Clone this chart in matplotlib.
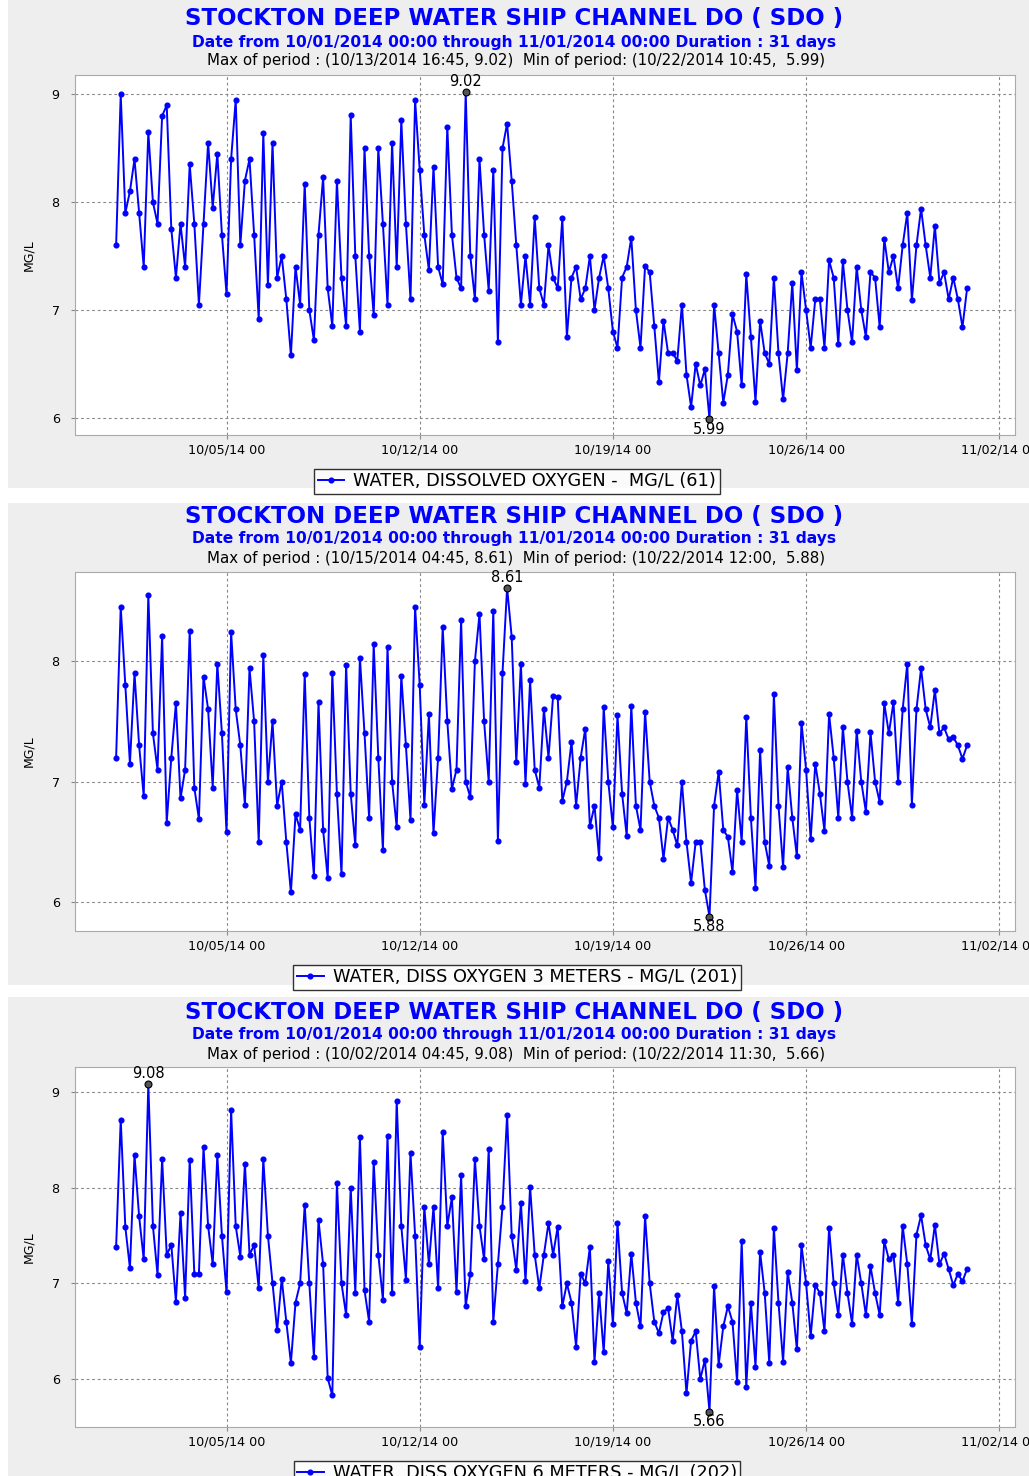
import numpy as np
import pandas as pd
import matplotlib
matplotlib.use('Agg')
from matplotlib import pyplot as plt
import matplotlib.dates as mdates
from matplotlib.patches import Rectangle

plt.rcParams['font.family'] = ['DejaVu Sans']

# 4-hourly readings, 6 per day, 10/01 - 10/31
do_surface = [
    7.6, 9.0, 7.9, 8.1, 8.4, 7.9,
    7.4, 8.65, 8.0, 7.8, 8.8, 8.9,
    7.75, 7.3, 7.8, 7.4, 8.35, 7.8,
    7.05, 7.8, 8.55, 7.95, 8.45, 7.7,
    7.15, 8.4, 8.95, 7.6, 8.2, 8.4,
    7.7, 6.92, 8.64, 7.23, 8.55, 7.3,
    7.5, 7.1, 6.58, 7.4, 7.05, 8.17,
    7.0, 6.72, 7.7, 8.23, 7.2, 6.85,
    8.2, 7.3, 6.85, 8.81, 7.5, 6.8,
    8.5, 7.5, 6.95, 8.5, 7.8, 7.05,
    8.55, 7.4, 8.76, 7.8, 7.1, 8.95,
    8.3, 7.7, 7.37, 8.33, 7.4, 7.24,
    8.7, 7.7, 7.3, 7.2, 9.02, 7.5,
    7.1, 8.4, 7.7, 7.18, 8.3, 6.7,
    8.5, 8.73, 8.2, 7.6, 7.05, 7.5,
    7.05, 7.86, 7.2, 7.05, 7.6, 7.3,
    7.2, 7.85, 6.75, 7.3, 7.4, 7.1,
    7.2, 7.5, 7.0, 7.3, 7.5, 7.2,
    6.8, 6.65, 7.3, 7.4, 7.67, 7.0,
    6.65, 7.41, 7.35, 6.85, 6.33, 6.9,
    6.6, 6.6, 6.53, 7.05, 6.4, 6.1,
    6.5, 6.3, 6.45, 5.99, 7.05, 6.6,
    6.14, 6.4, 6.96, 6.8, 6.3, 7.33,
    6.75, 6.15, 6.9, 6.6, 6.5, 7.3,
    6.6, 6.17, 6.6, 7.25, 6.44, 7.35,
    7.0, 6.65, 7.1, 7.1, 6.65, 7.46,
    7.3, 6.68, 7.45, 7.0, 6.7, 7.4,
    7.0, 6.75, 7.35, 7.3, 6.84, 7.66,
    7.35, 7.5, 7.2, 7.6, 7.9, 7.09,
    7.6, 7.94, 7.6, 7.3, 7.78, 7.25,
    7.35, 7.1, 7.3, 7.1, 6.84, 7.2,
]

do_3m = [
    7.2, 8.45, 7.8, 7.15, 7.9, 7.3,
    6.88, 8.55, 7.4, 7.1, 8.21, 6.66,
    7.2, 7.65, 6.86, 7.1, 8.25, 6.95,
    6.69, 7.87, 7.6, 6.95, 7.98, 7.4,
    6.58, 8.24, 7.6, 7.3, 6.81, 7.94,
    7.5, 6.5, 8.05, 7.0, 7.5, 6.8,
    7.0, 6.5, 6.08, 6.73, 6.6, 7.89,
    6.7, 6.22, 7.66, 6.6, 6.2, 7.9,
    6.9, 6.23, 7.97, 6.9, 6.47, 8.03,
    7.4, 6.7, 8.14, 7.2, 6.43, 8.12,
    7.0, 6.62, 7.88, 7.3, 6.68, 8.45,
    7.8, 6.81, 7.56, 6.57, 7.2, 8.28,
    7.5, 6.94, 7.1, 8.34, 7.0, 6.87,
    8.0, 8.39, 7.5, 7.0, 8.42, 6.51,
    7.9, 8.61, 8.2, 7.16, 7.98, 6.98,
    7.84, 7.1, 6.95, 7.6, 7.2, 7.71,
    7.7, 6.84, 7.0, 7.33, 6.8, 7.2,
    7.44, 6.63, 6.8, 6.37, 7.62, 7.0,
    6.62, 7.55, 6.9, 6.55, 7.63, 6.8,
    6.6, 7.58, 7.0, 6.8, 6.7, 6.36,
    6.7, 6.6, 6.47, 7.0, 6.5, 6.16,
    6.5, 6.5, 6.1, 5.88, 6.8, 7.08,
    6.6, 6.54, 6.25, 6.93, 6.5, 7.54,
    6.7, 6.12, 7.26, 6.5, 6.3, 7.73,
    6.8, 6.29, 7.12, 6.7, 6.38, 7.49,
    7.1, 6.52, 7.15, 6.9, 6.59, 7.56,
    7.2, 6.7, 7.45, 7.0, 6.7, 7.42,
    7.0, 6.75, 7.41, 7.0, 6.83, 7.65,
    7.4, 7.66, 7.0, 7.6, 7.98, 6.81,
    7.6, 7.94, 7.6, 7.45, 7.76, 7.4,
    7.45, 7.35, 7.37, 7.3, 7.19, 7.3,
]

do_6m = [
    7.38, 8.71, 7.59, 7.16, 8.34, 7.7,
    7.25, 9.08, 7.6, 7.09, 8.3, 7.3,
    7.4, 6.81, 7.73, 6.85, 8.29, 7.1,
    7.1, 8.42, 7.6, 7.2, 8.34, 7.5,
    6.91, 8.81, 7.6, 7.28, 8.25, 7.3,
    7.4, 6.95, 8.3, 7.5, 7.0, 6.51,
    7.05, 6.6, 6.17, 6.8, 7.0, 7.82,
    7.0, 6.23, 7.66, 7.2, 6.01, 5.83,
    8.05, 7.0, 6.67, 8.0, 6.9, 8.53,
    6.93, 6.6, 8.27, 7.3, 6.83, 8.54,
    6.9, 8.91, 7.6, 7.04, 8.36, 7.5,
    6.34, 7.8, 7.2, 7.8, 6.95, 8.58,
    7.6, 7.9, 6.91, 8.13, 6.76, 7.1,
    8.3, 7.6, 7.25, 8.4, 6.6, 7.2,
    7.8, 8.76, 7.5, 7.14, 7.84, 7.02,
    8.01, 7.3, 6.95, 7.3, 7.63, 7.3,
    7.59, 6.76, 7.0, 6.8, 6.34, 7.1,
    7.0, 7.38, 6.18, 6.9, 6.28, 7.23,
    6.58, 7.63, 6.9, 6.69, 7.31, 6.8,
    6.55, 7.7, 7.0, 6.6, 6.48, 6.7,
    6.74, 6.4, 6.88, 6.5, 5.85, 6.4,
    6.5, 6.0, 6.2, 5.66, 6.97, 6.15,
    6.55, 6.76, 6.6, 5.97, 7.44, 5.92,
    6.8, 6.13, 7.33, 6.9, 6.17, 7.58,
    6.8, 6.18, 7.12, 6.8, 6.31, 7.4,
    7.0, 6.45, 6.98, 6.9, 6.5, 7.58,
    7.0, 6.67, 7.3, 6.9, 6.58, 7.3,
    7.0, 6.67, 7.18, 6.9, 6.67, 7.44,
    7.25, 7.3, 6.8, 7.6, 7.2, 6.58,
    7.51, 7.71, 7.4, 7.25, 7.61, 7.2,
    7.31, 7.15, 6.98, 7.1, 7.02, 7.15,
]

times = pd.date_range('2014-10-01 00:00', periods=len(do_surface), freq='4h')

title = 'STOCKTON DEEP WATER SHIP CHANNEL DO ( SDO )'
subtitle = 'Date from 10/01/2014 00:00 through 11/01/2014 00:00 Duration : 31 days'
maxmin_text = [
    'Max of period : (10/13/2014 16:45, 9.02)  Min of period: (10/22/2014 10:45,  5.99)',
    'Max of period : (10/15/2014 04:45, 8.61)  Min of period: (10/22/2014 12:00,  5.88)',
    'Max of period : (10/02/2014 04:45, 9.08)  Min of period: (10/22/2014 11:30,  5.66)',
]
legend_labels = [
    'WATER, DISSOLVED OXYGEN -  MG/L (61)',
    'WATER, DISS OXYGEN 3 METERS - MG/L (201)',
    'WATER, DISS OXYGEN 6 METERS - MG/L (202)',
]
series = [do_surface, do_3m, do_6m]
yticks = [[6, 7, 8, 9], [6, 7, 8], [6, 7, 8, 9]]
ylims = [(5.84, 9.18), (5.76, 8.74), (5.5, 9.26)]
xtick_dates = pd.to_datetime(['2014-10-05', '2014-10-12', '2014-10-19', '2014-10-26', '2014-11-02'])

W, H = 1029, 1476
BLUE = '#0000ff'

def px_rect(l, t, r, b):
    return [l / W, 1 - b / H, (r - l) / W, (b - t) / H]

def fy(y):
    return 1 - y / H

fig = plt.figure(figsize=(W / 100, H / 100), dpi=100)
fig.patch.set_facecolor('white')

# panel layout in pixels: (bg top, bg bottom, axes top, axes bottom, title y)
panels = [
    (0, 488, 75, 435, 19),
    (503, 985, 572, 931, 516),
    (997, 1476, 1067, 1427, 1012),
]

for i, (bg_t, bg_b, ax_t, ax_b, ty) in enumerate(panels):
    fig.patches.append(Rectangle((8 / W, fy(bg_b)), (W - 8) / W, (bg_b - bg_t) / H,
                                 transform=fig.transFigure, facecolor='#eeeeee',
                                 edgecolor='none', zorder=-5))

    fig.text(514 / W, fy(ty), title, ha='center', va='center', color=BLUE,
             fontsize=16.5, fontweight='bold')
    fig.text(514 / W, fy(ty + 23), subtitle, ha='center', va='center', color=BLUE,
             fontsize=11.2, fontweight='bold')
    fig.text(516 / W, fy(ty + 42), maxmin_text[i], ha='center', va='center',
             color='black', fontsize=10.8)

    ax = fig.add_axes(px_rect(75, ax_t, 1015, ax_b))
    ax.set_zorder(2)
    ax.set_facecolor('white')
    vals = np.array(series[i])
    line, = ax.plot(times, vals, color=BLUE, lw=1.4, marker='o', ms=3.4,
                    mec=BLUE, mfc=BLUE, label=legend_labels[i])

    # max / min markers
    imax = int(np.argmax(vals))
    imin = int(np.argmin(vals))
    for idx, dy, va in [(imax, 2, 'bottom'), (imin, -2, 'top')]:
        ax.plot(times[idx], vals[idx], 'o', ms=5, mfc='#555555', mec='black', mew=0.8)
        ax.annotate(f'{vals[idx]:.2f}', (times[idx], vals[idx]), xytext=(0, dy),
                    textcoords='offset points', ha='center', va=va, fontsize=10.5)

    ax.set_xlim(pd.Timestamp('2014-10-01') - pd.Timedelta(days=1.49),
                pd.Timestamp('2014-10-01') + pd.Timedelta(days=32.57))
    ax.set_ylim(*ylims[i])
    ax.set_xticks(xtick_dates)
    ax.xaxis.set_major_formatter(mdates.DateFormatter('%m/%d/%y %H'))
    ax.set_yticks(yticks[i])
    ax.tick_params(axis='both', labelsize=9.2, length=3, color='#888888')
    ax.tick_params(axis='x', pad=3)
    ax.tick_params(axis='y', pad=8)
    ax.grid(True, color='#888888', linestyle=(0, (2.5, 2.5)), lw=0.8)
    for s in ax.spines.values():
        s.set_color('#aaaaaa')
    ax.set_ylabel('MG/L', fontsize=9)
    ax.yaxis.set_label_coords(-0.042, 0.5)

    leg = ax.legend(handles=[line], loc='upper center',
                    bbox_to_anchor=(517 / W, fy(ax_b + 25)), bbox_transform=fig.transFigure,
                    fontsize=12.8, frameon=True, fancybox=False,
                    edgecolor='black', handlelength=1.5, borderpad=0.2, handletextpad=0.5)
    leg.get_frame().set_linewidth(1.0)
    leg.get_frame().set_facecolor('white')

fig.savefig('out.png', dpi=100)
print('saved out.png')
